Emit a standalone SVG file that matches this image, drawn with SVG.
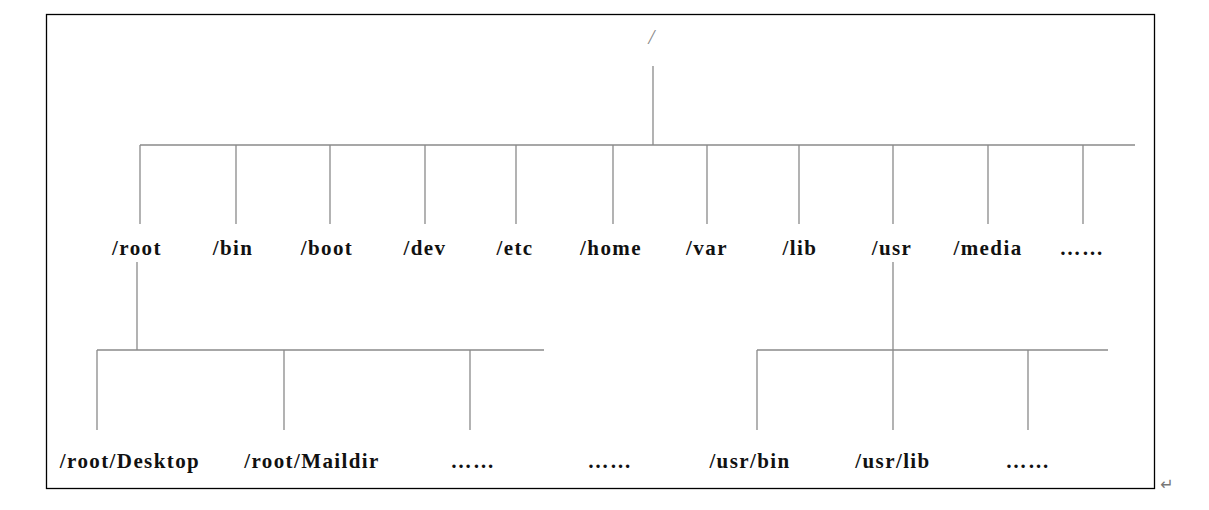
<svg xmlns="http://www.w3.org/2000/svg" width="1209" height="510" viewBox="0 0 1209 510">
<style>
.l{stroke:#8a8a8a;stroke-width:1.3;fill:none}
.t{font-family:"Liberation Serif",serif;font-weight:bold;font-size:21px;letter-spacing:1.4px;text-anchor:middle;fill:#111}
</style>
<rect width="1209" height="510" fill="#fff"/>
<rect x="46.5" y="14.5" width="1108" height="474" fill="none" stroke="#000" stroke-width="1.3"/>
<g id="connectors">
<path class="l" d="M653 66V145M140 145H1135M140 145V224M236 145V224M330 145V224M425 145V224M516 145V224M613 145V224M707 145V224M799 145V224M893 145V224M988 145V224M1083 145V224"/>
<path class="l" d="M137 262V350M97 350H544M97 350V430M284 350V430M470 350V430"/>
<path class="l" d="M893 262V350M757 350H1108M757 350V430M893 350V430M1028 350V430"/>
</g>
<g id="n-slash"><text x="652" y="44" class="t" style="font-weight:normal;fill:#888;font-style:italic">/</text></g>
<g id="n-root"><text x="137" y="255" class="t">/root</text></g>
<g id="n-bin"><text x="233" y="255" class="t">/bin</text></g>
<g id="n-boot"><text x="327" y="255" class="t">/boot</text></g>
<g id="n-dev"><text x="425" y="255" class="t">/dev</text></g>
<g id="n-etc"><text x="515" y="255" class="t">/etc</text></g>
<g id="n-home"><text x="611" y="255" class="t">/home</text></g>
<g id="n-var"><text x="707" y="255" class="t">/var</text></g>
<g id="n-lib"><text x="800" y="255" class="t">/lib</text></g>
<g id="n-usr"><text x="892" y="255" class="t">/usr</text></g>
<g id="n-media"><text x="988" y="255" class="t">/media</text></g>
<g id="n-more1"><text x="1082" y="255" class="t">……</text></g>
<g id="n-desktop"><text x="130" y="468" class="t">/root/Desktop</text></g>
<g id="n-maildir"><text x="312" y="468" class="t">/root/Maildir</text></g>
<g id="n-more2"><text x="473" y="468" class="t">……</text></g>
<g id="n-more3"><text x="610" y="468" class="t">……</text></g>
<g id="n-usrbin"><text x="750" y="468" class="t">/usr/bin</text></g>
<g id="n-usrlib"><text x="893" y="468" class="t">/usr/lib</text></g>
<g id="n-more4"><text x="1028" y="468" class="t">……</text></g>
<text x="1167" y="490" style="font-family:'DejaVu Sans',sans-serif;font-size:16px;fill:#777;text-anchor:middle">↵</text>
</svg>
